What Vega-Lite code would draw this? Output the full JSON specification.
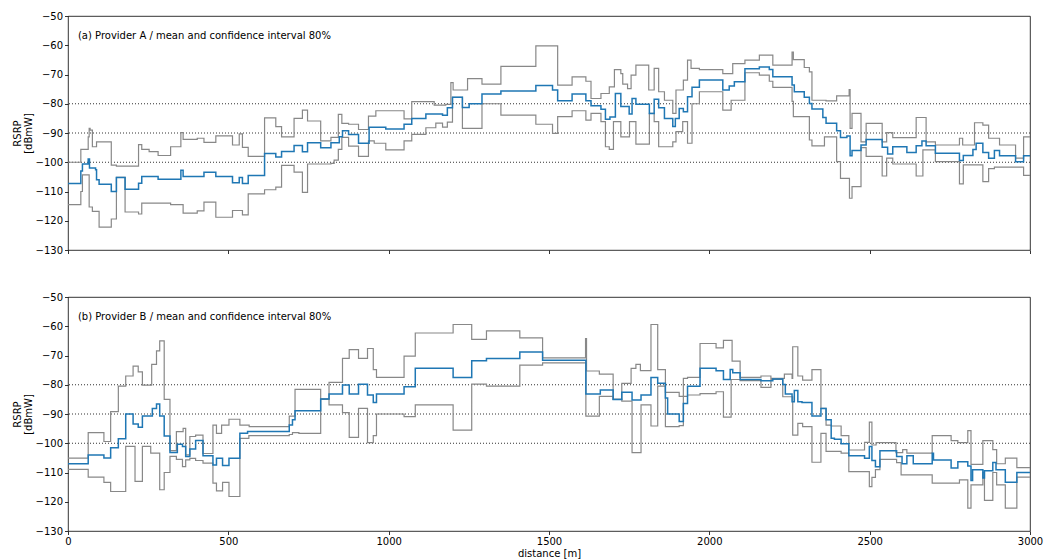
{
  "$schema": "https://vega.github.io/schema/vega-lite/v6.json",
  "padding": {"left": 11, "top": 10, "right": 10, "bottom": 4},
  "bounds": "flush",
  "spacing": 47,
  "config": {
    "font": "DejaVu Sans",
    "view": {"stroke": "#000", "strokeWidth": 0.8},
    "axis": {
      "domain": false, "grid": false,
      "tickColor": "#000", "tickWidth": 0.8, "tickSize": 3.5,
      "labelFont": "DejaVu Sans", "labelFontSize": 10, "labelColor": "#000", "labelPadding": 2, "labelOverlap": false,
      "titleFont": "DejaVu Sans", "titleFontSize": 10, "titleFontWeight": "normal", "titleColor": "#000"
    },
    "axisX": {"labelFlush": false, "titlePadding": 2},
    "axisY": {"titlePadding": 2, "titleLineHeight": 11}
  },
  "datasets": {
    "levels": [{"y": -80}, {"y": -90}, {"y": -100}],
    "a_mean": [
      {"x":0,"y":-107.3},{"x":40,"y":-103},{"x":45,"y":-100.6},{"x":63,"y":-98.9},{"x":67,"y":-102},{"x":86,"y":-102.6},{"x":89,"y":-106},{"x":97,"y":-107.5},{"x":135,"y":-110},{"x":151,"y":-105.2},{"x":178,"y":-109.2},{"x":220,"y":-107.2},{"x":230,"y":-104.9},{"x":281,"y":-105.8},{"x":352,"y":-102.7},{"x":359,"y":-104.9},{"x":424,"y":-103.4},{"x":461,"y":-104.9},{"x":513,"y":-107},{"x":534,"y":-105.2},{"x":544,"y":-107.3},{"x":562,"y":-104.5},{"x":613,"y":-97},{"x":648,"y":-98.2},{"x":666,"y":-96.3},{"x":705,"y":-94.3},{"x":731,"y":-96.4},{"x":747,"y":-93.3},{"x":788,"y":-95},{"x":820,"y":-93.3},{"x":846,"y":-91.3},{"x":856,"y":-89.2},{"x":875,"y":-90.5},{"x":906,"y":-93.5},{"x":939,"y":-88},{"x":991,"y":-88.6},{"x":1048,"y":-87},{"x":1072,"y":-85},{"x":1116,"y":-83.5},{"x":1168,"y":-83.9},{"x":1183,"y":-81.4},{"x":1199,"y":-77.8},{"x":1230,"y":-81.3},{"x":1251,"y":-80},{"x":1291,"y":-76.7},{"x":1350,"y":-75.6},{"x":1459,"y":-73.8},{"x":1511,"y":-75.3},{"x":1527,"y":-79},{"x":1572,"y":-76.7},{"x":1615,"y":-79},{"x":1631,"y":-80.7},{"x":1662,"y":-81.9},{"x":1676,"y":-85.3},{"x":1690,"y":-84.5},{"x":1707,"y":-76.5},{"x":1724,"y":-80.9},{"x":1750,"y":-83.5},{"x":1759,"y":-78.2},{"x":1771,"y":-80.2},{"x":1813,"y":-83.3},{"x":1828,"y":-78.5},{"x":1842,"y":-81.4},{"x":1860,"y":-85},{"x":1886,"y":-87.8},{"x":1894,"y":-85},{"x":1906,"y":-81.6},{"x":1919,"y":-82.7},{"x":1932,"y":-77.6},{"x":1946,"y":-74.4},{"x":1969,"y":-71.9},{"x":2042,"y":-75.3},{"x":2062,"y":-73.9},{"x":2078,"y":-72.5},{"x":2111,"y":-68},{"x":2156,"y":-67.4},{"x":2187,"y":-68.3},{"x":2198,"y":-70.8},{"x":2258,"y":-73.6},{"x":2265,"y":-75.9},{"x":2296,"y":-77.8},{"x":2312,"y":-79.9},{"x":2320,"y":-81.8},{"x":2354,"y":-84.7},{"x":2364,"y":-86.7},{"x":2397,"y":-89.2},{"x":2409,"y":-91.5},{"x":2429,"y":-91},{"x":2439,"y":-97.8},{"x":2445,"y":-96},{"x":2473,"y":-94.1},{"x":2489,"y":-92.2},{"x":2539,"y":-94.9},{"x":2556,"y":-97.2},{"x":2572,"y":-94.7},{"x":2616,"y":-96.7},{"x":2645,"y":-94.4},{"x":2663,"y":-92.7},{"x":2676,"y":-94.4},{"x":2705,"y":-96.9},{"x":2780,"y":-99.4},{"x":2792,"y":-97.7},{"x":2822,"y":-95.6},{"x":2832,"y":-93.5},{"x":2853,"y":-96.7},{"x":2871,"y":-98.6},{"x":2889,"y":-96},{"x":2905,"y":-97.8},{"x":2955,"y":-99.8},{"x":2980,"y":-97.8},{"x":3000,"y":-97.8}
    ],
    "a_hi": [
      {"x":0,"y":-100},{"x":40,"y":-95.6},{"x":63,"y":-91.3},{"x":66,"y":-88.4},{"x":69,"y":-89},{"x":76,"y":-94.7},{"x":89,"y":-93},{"x":135,"y":-101},{"x":151,"y":-101.3},{"x":220,"y":-94},{"x":230,"y":-95.6},{"x":253,"y":-96.4},{"x":281,"y":-97.7},{"x":320,"y":-94.7},{"x":352,"y":-89.9},{"x":359,"y":-92.2},{"x":403,"y":-91.8},{"x":424,"y":-93.2},{"x":461,"y":-91},{"x":513,"y":-94.1},{"x":534,"y":-90.3},{"x":544,"y":-94.9},{"x":562,"y":-98},{"x":613,"y":-84.8},{"x":648,"y":-87.8},{"x":666,"y":-91.3},{"x":705,"y":-85},{"x":731,"y":-82.2},{"x":747,"y":-85.9},{"x":788,"y":-92.7},{"x":820,"y":-91.5},{"x":843,"y":-83.6},{"x":854,"y":-86.7},{"x":875,"y":-87},{"x":906,"y":-88.8},{"x":937,"y":-84.2},{"x":960,"y":-82.4},{"x":1048,"y":-85.2},{"x":1072,"y":-79.3},{"x":1142,"y":-80.5},{"x":1178,"y":-80.2},{"x":1194,"y":-72.8},{"x":1201,"y":-75.3},{"x":1246,"y":-71.4},{"x":1291,"y":-73.3},{"x":1350,"y":-67.2},{"x":1459,"y":-60.2},{"x":1527,"y":-73.6},{"x":1572,"y":-70.8},{"x":1615,"y":-72.3},{"x":1631,"y":-78.2},{"x":1662,"y":-76.5},{"x":1688,"y":-74.2},{"x":1704,"y":-68.3},{"x":1724,"y":-69.7},{"x":1730,"y":-73.3},{"x":1745,"y":-74.8},{"x":1756,"y":-70.2},{"x":1771,"y":-66.8},{"x":1811,"y":-75.3},{"x":1828,"y":-67.9},{"x":1842,"y":-75.9},{"x":1860,"y":-78.8},{"x":1886,"y":-83.3},{"x":1896,"y":-75.3},{"x":1919,"y":-71.9},{"x":1932,"y":-65.1},{"x":1943,"y":-67.9},{"x":1969,"y":-68.3},{"x":2042,"y":-69.7},{"x":2073,"y":-66.3},{"x":2111,"y":-65.1},{"x":2156,"y":-63.4},{"x":2198,"y":-66.8},{"x":2258,"y":-62.3},{"x":2262,"y":-64.9},{"x":2296,"y":-67.6},{"x":2312,"y":-69.1},{"x":2320,"y":-78.8},{"x":2364,"y":-79},{"x":2397,"y":-77.3},{"x":2436,"y":-75.2},{"x":2439,"y":-88.4},{"x":2445,"y":-83.3},{"x":2473,"y":-93},{"x":2489,"y":-86.7},{"x":2539,"y":-93},{"x":2553,"y":-89.9},{"x":2572,"y":-91.6},{"x":2645,"y":-84.7},{"x":2676,"y":-93},{"x":2705,"y":-94.1},{"x":2780,"y":-91.8},{"x":2790,"y":-94.1},{"x":2827,"y":-86.5},{"x":2853,"y":-87.3},{"x":2871,"y":-91.8},{"x":2905,"y":-94.1},{"x":2955,"y":-98.6},{"x":2980,"y":-91.3},{"x":3000,"y":-91.3}
    ],
    "a_lo": [
      {"x":0,"y":-114.5},{"x":40,"y":-110},{"x":45,"y":-104.3},{"x":66,"y":-115.3},{"x":76,"y":-116.8},{"x":97,"y":-122.2},{"x":135,"y":-119.4},{"x":151,"y":-105.2},{"x":178,"y":-117},{"x":220,"y":-117.7},{"x":230,"y":-114},{"x":320,"y":-114.5},{"x":359,"y":-117.4},{"x":403,"y":-116.6},{"x":424,"y":-113.6},{"x":461,"y":-118.8},{"x":513,"y":-116.5},{"x":544,"y":-118},{"x":562,"y":-110.8},{"x":613,"y":-109.4},{"x":648,"y":-108.5},{"x":666,"y":-101.1},{"x":705,"y":-103.4},{"x":731,"y":-110.3},{"x":747,"y":-100.6},{"x":820,"y":-100.4},{"x":830,"y":-99.3},{"x":843,"y":-95.6},{"x":854,"y":-91.5},{"x":875,"y":-94.5},{"x":906,"y":-98},{"x":937,"y":-92.7},{"x":955,"y":-93.5},{"x":991,"y":-95.8},{"x":1048,"y":-92.7},{"x":1072,"y":-90.5},{"x":1116,"y":-88.2},{"x":1147,"y":-86.6},{"x":1168,"y":-88},{"x":1183,"y":-86.3},{"x":1199,"y":-77.8},{"x":1230,"y":-88.4},{"x":1291,"y":-80},{"x":1350,"y":-83.9},{"x":1459,"y":-87},{"x":1511,"y":-90.1},{"x":1527,"y":-84.4},{"x":1572,"y":-82.4},{"x":1615,"y":-85.6},{"x":1631,"y":-83.3},{"x":1662,"y":-86.1},{"x":1676,"y":-94.7},{"x":1688,"y":-95.6},{"x":1701,"y":-86.1},{"x":1724,"y":-91.3},{"x":1751,"y":-86.1},{"x":1771,"y":-93.8},{"x":1813,"y":-83.3},{"x":1828,"y":-86.1},{"x":1842,"y":-94.7},{"x":1886,"y":-93},{"x":1896,"y":-89.5},{"x":1917,"y":-86.1},{"x":1932,"y":-93.5},{"x":1946,"y":-80},{"x":1969,"y":-75.9},{"x":2042,"y":-82.2},{"x":2068,"y":-78.8},{"x":2111,"y":-69.4},{"x":2156,"y":-70.2},{"x":2187,"y":-72.3},{"x":2198,"y":-74.4},{"x":2258,"y":-79.2},{"x":2262,"y":-84.4},{"x":2312,"y":-92.4},{"x":2320,"y":-94.4},{"x":2359,"y":-91.3},{"x":2397,"y":-99.8},{"x":2409,"y":-105.5},{"x":2437,"y":-112.3},{"x":2445,"y":-108.3},{"x":2473,"y":-95},{"x":2489,"y":-98},{"x":2539,"y":-104.7},{"x":2553,"y":-98.6},{"x":2572,"y":-100.6},{"x":2645,"y":-104.7},{"x":2666,"y":-95.8},{"x":2705,"y":-99.8},{"x":2780,"y":-107.4},{"x":2792,"y":-100.9},{"x":2853,"y":-106.6},{"x":2871,"y":-102.2},{"x":2889,"y":-101.7},{"x":2980,"y":-104.5},{"x":3000,"y":-104.5}
    ],
    "b_mean": [
      {"x":0,"y":-107},{"x":63,"y":-104},{"x":112,"y":-105},{"x":133,"y":-101.5},{"x":157,"y":-98.5},{"x":180,"y":-90},{"x":203,"y":-93.4},{"x":219,"y":-94.5},{"x":232,"y":-90.7},{"x":263,"y":-88.1},{"x":276,"y":-86.6},{"x":286,"y":-90.7},{"x":300,"y":-97.5},{"x":318,"y":-103.2},{"x":341,"y":-100.3},{"x":357,"y":-101.1},{"x":367,"y":-104.5},{"x":380,"y":-102},{"x":398,"y":-99.1},{"x":421,"y":-104.3},{"x":452,"y":-107.4},{"x":463,"y":-105.1},{"x":482,"y":-107.6},{"x":502,"y":-105.1},{"x":536,"y":-96.6},{"x":560,"y":-96},{"x":690,"y":-93.8},{"x":700,"y":-92},{"x":708,"y":-88.9},{"x":788,"y":-84.9},{"x":814,"y":-83.2},{"x":856,"y":-80.1},{"x":877,"y":-83.2},{"x":906,"y":-79.8},{"x":934,"y":-83.5},{"x":952,"y":-86.1},{"x":962,"y":-83.2},{"x":1048,"y":-80.7},{"x":1083,"y":-74.4},{"x":1201,"y":-77.5},{"x":1259,"y":-71.8},{"x":1305,"y":-71},{"x":1409,"y":-68.8},{"x":1480,"y":-71.6},{"x":1615,"y":-83.2},{"x":1660,"y":-81.8},{"x":1700,"y":-85},{"x":1727,"y":-82.6},{"x":1759,"y":-85.2},{"x":1787,"y":-83.5},{"x":1818,"y":-77.5},{"x":1839,"y":-79.5},{"x":1863,"y":-84.5},{"x":1870,"y":-90},{"x":1906,"y":-92.6},{"x":1919,"y":-86.4},{"x":1932,"y":-80.5},{"x":1971,"y":-74.4},{"x":2021,"y":-75.2},{"x":2044,"y":-78.2},{"x":2065,"y":-74.8},{"x":2073,"y":-75.9},{"x":2096,"y":-78.2},{"x":2161,"y":-78.6},{"x":2198,"y":-78},{"x":2229,"y":-79.9},{"x":2237,"y":-83.2},{"x":2258,"y":-85.8},{"x":2265,"y":-82},{"x":2276,"y":-85.8},{"x":2289,"y":-86.1},{"x":2320,"y":-90.7},{"x":2348,"y":-88.1},{"x":2364,"y":-92},{"x":2380,"y":-98.3},{"x":2390,"y":-98.6},{"x":2411,"y":-100.2},{"x":2435,"y":-104.3},{"x":2484,"y":-105.1},{"x":2499,"y":-101.1},{"x":2507,"y":-105.9},{"x":2518,"y":-108},{"x":2532,"y":-102.6},{"x":2584,"y":-104.5},{"x":2601,"y":-107},{"x":2616,"y":-104.3},{"x":2636,"y":-107},{"x":2695,"y":-103.4},{"x":2699,"y":-105.7},{"x":2754,"y":-108.5},{"x":2775,"y":-106.3},{"x":2806,"y":-107.8},{"x":2816,"y":-112.7},{"x":2821,"y":-109.1},{"x":2853,"y":-111.9},{"x":2858,"y":-109.4},{"x":2884,"y":-106.6},{"x":2894,"y":-109.1},{"x":2923,"y":-113.3},{"x":2959,"y":-110},{"x":3000,"y":-110}
    ],
    "b_hi": [
      {"x":0,"y":-105.1},{"x":63,"y":-96.4},{"x":112,"y":-99.4},{"x":133,"y":-89.2},{"x":157,"y":-80.5},{"x":180,"y":-77},{"x":203,"y":-73.6},{"x":219,"y":-75.6},{"x":232,"y":-80.1},{"x":261,"y":-73},{"x":276,"y":-68.4},{"x":286,"y":-65},{"x":300,"y":-85},{"x":318,"y":-102.5},{"x":338,"y":-96},{"x":359,"y":-94.9},{"x":367,"y":-104},{"x":380,"y":-97.7},{"x":398,"y":-97.2},{"x":421,"y":-103.5},{"x":452,"y":-93.8},{"x":463,"y":-96.6},{"x":479,"y":-93.8},{"x":502,"y":-91.8},{"x":536,"y":-93.8},{"x":565,"y":-94.3},{"x":690,"y":-90.7},{"x":708,"y":-81.6},{"x":788,"y":-84.9},{"x":814,"y":-79.2},{"x":856,"y":-71},{"x":877,"y":-68},{"x":906,"y":-71},{"x":934,"y":-67.6},{"x":952,"y":-74.8},{"x":962,"y":-77.5},{"x":1048,"y":-70.2},{"x":1083,"y":-62.3},{"x":1201,"y":-59.4},{"x":1259,"y":-64.5},{"x":1305,"y":-61.6},{"x":1409,"y":-64},{"x":1480,"y":-70.8},{"x":1614,"y":-64.2},{"x":1617,"y":-75.3},{"x":1657,"y":-76.4},{"x":1700,"y":-85},{"x":1727,"y":-79.5},{"x":1756,"y":-74.4},{"x":1771,"y":-73},{"x":1785,"y":-75.2},{"x":1818,"y":-59.4},{"x":1839,"y":-74.8},{"x":1863,"y":-82.6},{"x":1906,"y":-84},{"x":1919,"y":-77.8},{"x":1932,"y":-77.5},{"x":1971,"y":-65.9},{"x":2021,"y":-67.4},{"x":2044,"y":-64.8},{"x":2071,"y":-71.9},{"x":2096,"y":-77.5},{"x":2161,"y":-77},{"x":2192,"y":-77.8},{"x":2234,"y":-76.4},{"x":2258,"y":-77.8},{"x":2260,"y":-67},{"x":2276,"y":-77},{"x":2291,"y":-78.4},{"x":2320,"y":-74.8},{"x":2348,"y":-88.1},{"x":2364,"y":-93.8},{"x":2380,"y":-94.1},{"x":2411,"y":-97.4},{"x":2435,"y":-102.3},{"x":2484,"y":-99.7},{"x":2499,"y":-92.8},{"x":2507,"y":-100.6},{"x":2520,"y":-99.8},{"x":2582,"y":-103.2},{"x":2603,"y":-102.2},{"x":2616,"y":-103.4},{"x":2695,"y":-97.4},{"x":2754,"y":-99.1},{"x":2775,"y":-99.8},{"x":2806,"y":-95.7},{"x":2816,"y":-107.2},{"x":2853,"y":-99.1},{"x":2884,"y":-102.2},{"x":2896,"y":-107},{"x":2923,"y":-105.1},{"x":2959,"y":-108.3},{"x":3000,"y":-108.3}
    ],
    "b_lo": [
      {"x":0,"y":-108.9},{"x":63,"y":-111.6},{"x":112,"y":-113.4},{"x":133,"y":-116.5},{"x":180,"y":-101.1},{"x":209,"y":-113},{"x":232,"y":-101.1},{"x":258,"y":-103.4},{"x":286,"y":-115.9},{"x":300,"y":-110},{"x":318,"y":-104.5},{"x":338,"y":-105.5},{"x":357,"y":-108},{"x":367,"y":-105.7},{"x":380,"y":-105.2},{"x":398,"y":-105.9},{"x":421,"y":-106.8},{"x":452,"y":-113.6},{"x":463,"y":-116.3},{"x":482,"y":-113.4},{"x":502,"y":-118.2},{"x":536,"y":-98.3},{"x":564,"y":-97.4},{"x":690,"y":-97},{"x":700,"y":-96.4},{"x":720,"y":-96.6},{"x":788,"y":-84.9},{"x":814,"y":-86.9},{"x":856,"y":-89.5},{"x":877,"y":-98},{"x":906,"y":-88.1},{"x":934,"y":-99.8},{"x":952,"y":-97.4},{"x":962,"y":-90},{"x":1048,"y":-90.9},{"x":1083,"y":-86.9},{"x":1201,"y":-95.5},{"x":1259,"y":-79.8},{"x":1305,"y":-80.5},{"x":1409,"y":-73.3},{"x":1480,"y":-72.5},{"x":1615,"y":-90.7},{"x":1657,"y":-84},{"x":1700,"y":-85},{"x":1727,"y":-85.6},{"x":1759,"y":-103.2},{"x":1787,"y":-86.9},{"x":1818,"y":-94.1},{"x":1839,"y":-80.5},{"x":1863,"y":-94.3},{"x":1906,"y":-94},{"x":1919,"y":-84},{"x":1932,"y":-83.5},{"x":1971,"y":-83},{"x":2021,"y":-82.4},{"x":2044,"y":-91.1},{"x":2068,"y":-78.2},{"x":2096,"y":-78.6},{"x":2161,"y":-80.9},{"x":2192,"y":-78.2},{"x":2229,"y":-84.1},{"x":2260,"y":-97.2},{"x":2276,"y":-93.2},{"x":2291,"y":-94.3},{"x":2320,"y":-106.5},{"x":2348,"y":-96.6},{"x":2364,"y":-102.8},{"x":2411,"y":-103.4},{"x":2435,"y":-109.7},{"x":2499,"y":-114.8},{"x":2507,"y":-111.7},{"x":2518,"y":-109},{"x":2532,"y":-105.5},{"x":2584,"y":-106.6},{"x":2598,"y":-110.8},{"x":2695,"y":-113.6},{"x":2780,"y":-112.5},{"x":2806,"y":-122.2},{"x":2816,"y":-114.2},{"x":2853,"y":-110},{"x":2858,"y":-119.5},{"x":2884,"y":-110},{"x":2896,"y":-114.2},{"x":2923,"y":-122.2},{"x":2959,"y":-111.6},{"x":3000,"y":-111.6}
    ]
  },
  "vconcat": [
    {
      "width": 962,
      "height": 234,
      "layer": [
        {
          "encoding": {
            "y": {"field": "y", "type": "quantitative", "scale": {"domain": [-130, -50], "nice": false, "zero": false}, "axis": {"values": [-130, -120, -110, -100, -90, -80, -70, -60, -50], "tickCount": 9, "format": "d", "labelOverlap": false, "title": ["RSRP", "[dBmW]"]}}
          },
          "layer": [
            {
              "data": {"name": "levels"},
              "mark": {"type": "rule", "color": "#333", "strokeWidth": 1, "strokeDash": [1, 2]},
              "encoding": {}
            },
            {
              "data": {"name": "a_hi"},
              "mark": {"type": "line", "interpolate": "step-after", "color": "#888", "strokeWidth": 1.2},
              "encoding": {
                "x": {"field": "x", "type": "quantitative", "scale": {"domain": [0, 3000], "nice": false, "zero": false}, "axis": {"values": [0, 500, 1000, 1500, 2000, 2500, 3000], "labels": false, "title": null}}
              }
            },
            {
              "data": {"name": "a_lo"},
              "mark": {"type": "line", "interpolate": "step-after", "color": "#888", "strokeWidth": 1.2},
              "encoding": {"x": {"field": "x", "type": "quantitative", "axis": {"values": [0, 500, 1000, 1500, 2000, 2500, 3000], "labels": false, "title": null}}}
            },
            {
              "data": {"name": "a_mean"},
              "mark": {"type": "line", "interpolate": "step-after", "color": "#1f77b4", "strokeWidth": 1.5},
              "encoding": {"x": {"field": "x", "type": "quantitative", "axis": {"values": [0, 500, 1000, 1500, 2000, 2500, 3000], "labels": false, "title": null}}}
            }
          ]
        },
        {
          "data": {"values": [{"label": "(a) Provider A / mean and confidence interval 80%"}]},
          "mark": {"type": "text", "align": "left", "baseline": "middle", "fontSize": 10, "font": "DejaVu Sans", "color": "#000"},
          "encoding": {
            "x": {"datum": 31, "type": "quantitative", "axis": {"values": [0, 500, 1000, 1500, 2000, 2500, 3000], "labels": false, "title": null}},
            "y": {"datum": -56.8, "type": "quantitative", "axis": {"values": [-130, -120, -110, -100, -90, -80, -70, -60, -50], "tickCount": 9, "format": "d", "labelOverlap": false, "title": ["RSRP", "[dBmW]"]}},
            "text": {"field": "label"}
          }
        }
      ]
    },
    {
      "width": 962,
      "height": 234,
      "layer": [
        {
          "encoding": {
            "y": {"field": "y", "type": "quantitative", "scale": {"domain": [-130, -50], "nice": false, "zero": false}, "axis": {"values": [-130, -120, -110, -100, -90, -80, -70, -60, -50], "tickCount": 9, "format": "d", "labelOverlap": false, "title": ["RSRP", "[dBmW]"]}}
          },
          "layer": [
            {
              "data": {"name": "levels"},
              "mark": {"type": "rule", "color": "#333", "strokeWidth": 1, "strokeDash": [1, 2]},
              "encoding": {}
            },
            {
              "data": {"name": "b_hi"},
              "mark": {"type": "line", "interpolate": "step-after", "color": "#888", "strokeWidth": 1.2},
              "encoding": {
                "x": {"field": "x", "type": "quantitative", "scale": {"domain": [0, 3000], "nice": false, "zero": false}, "axis": {"values": [0, 500, 1000, 1500, 2000, 2500, 3000], "format": "d", "title": "distance [m]"}}
              }
            },
            {
              "data": {"name": "b_lo"},
              "mark": {"type": "line", "interpolate": "step-after", "color": "#888", "strokeWidth": 1.2},
              "encoding": {"x": {"field": "x", "type": "quantitative", "axis": {"values": [0, 500, 1000, 1500, 2000, 2500, 3000], "format": "d", "title": "distance [m]"}}}
            },
            {
              "data": {"name": "b_mean"},
              "mark": {"type": "line", "interpolate": "step-after", "color": "#1f77b4", "strokeWidth": 1.5},
              "encoding": {"x": {"field": "x", "type": "quantitative", "axis": {"values": [0, 500, 1000, 1500, 2000, 2500, 3000], "format": "d", "title": "distance [m]"}}}
            }
          ]
        },
        {
          "data": {"values": [{"label": "(b) Provider B / mean and confidence interval 80%"}]},
          "mark": {"type": "text", "align": "left", "baseline": "middle", "fontSize": 10, "font": "DejaVu Sans", "color": "#000"},
          "encoding": {
            "x": {"datum": 31, "type": "quantitative", "axis": {"values": [0, 500, 1000, 1500, 2000, 2500, 3000], "format": "d", "title": "distance [m]"}},
            "y": {"datum": -56.8, "type": "quantitative", "axis": {"values": [-130, -120, -110, -100, -90, -80, -70, -60, -50], "tickCount": 9, "format": "d", "labelOverlap": false, "title": ["RSRP", "[dBmW]"]}},
            "text": {"field": "label"}
          }
        }
      ]
    }
  ]
}
